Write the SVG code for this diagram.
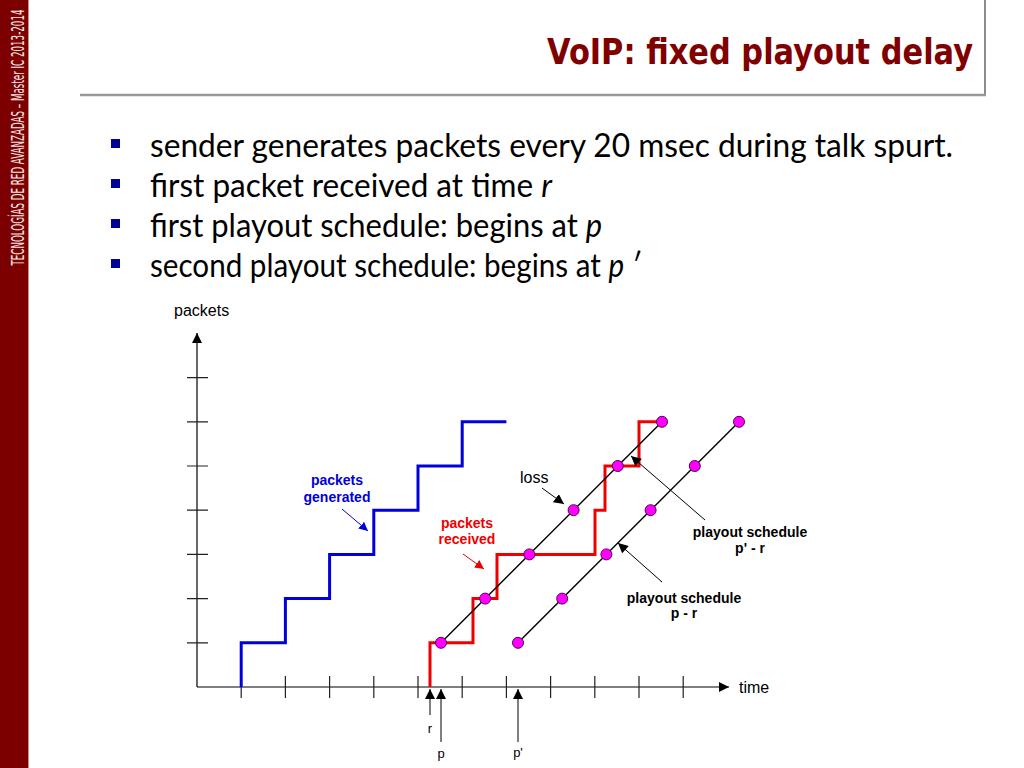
<svg xmlns="http://www.w3.org/2000/svg" width="1024" height="768" viewBox="0 0 1024 768">
<defs>
<style>
.side{font-family:"DejaVu Sans Condensed","Liberation Sans Narrow","DejaVu Sans",sans-serif;font-size:18px;fill:#f4e8e8}
.title{font-family:"DejaVu Sans","Liberation Sans",sans-serif;font-weight:bold;font-size:35px;fill:#800000}
.bul{font-family:Lato,"Open Sans",sans-serif;font-size:32px;fill:#000}
.it{font-style:italic}
.ax{stroke:#000;stroke-width:1.2;fill:none}
.tick{stroke:#222;stroke-width:1.2}
.lbl{font-family:"Liberation Sans",Arial,sans-serif;font-size:16px;fill:#000}
.sm{font-family:"Liberation Sans",Arial,sans-serif;font-size:13px;fill:#000;text-anchor:middle}
.bold{font-family:"Liberation Sans",Arial,sans-serif;font-weight:bold;font-size:14px;text-anchor:middle}
.dot{fill:#ff00ff;stroke:#550055;stroke-width:1}
.diag{stroke:#000;stroke-width:1.4;fill:none}
.thin{stroke:#000;stroke-width:1;fill:none}
</style>
<marker id="ah" viewBox="0 0 10 10" refX="10" refY="5" markerWidth="10" markerHeight="10" markerUnits="userSpaceOnUse" orient="auto"><path d="M0,0 L10,5 L0,10 z" fill="#000"/></marker>
<marker id="ahb" viewBox="0 0 10 10" refX="10" refY="5" markerWidth="9" markerHeight="9" markerUnits="userSpaceOnUse" orient="auto"><path d="M0,0 L10,5 L0,10 z" fill="#0000dd"/></marker>
<marker id="ahr" viewBox="0 0 10 10" refX="10" refY="5" markerWidth="9" markerHeight="9" markerUnits="userSpaceOnUse" orient="auto"><path d="M0,0 L10,5 L0,10 z" fill="#ee0000"/></marker>
<marker id="ahl" viewBox="0 0 10 10" refX="10" refY="5" markerWidth="12" markerHeight="10" markerUnits="userSpaceOnUse" orient="auto"><path d="M0,0 L10,5 L0,10 z" fill="#000"/></marker>
</defs>
<rect width="1024" height="768" fill="#fff"/>
<g id="sidebar">
<rect x="0" y="0" width="28" height="768" fill="#7d0000"/>
<line x1="28.5" y1="0" x2="28.5" y2="768" stroke="#c98c8c" stroke-width="1"/>
<text class="side" transform="translate(24,137.5) rotate(-90)" text-anchor="middle" textLength="256" lengthAdjust="spacingAndGlyphs">TECNOLOGÍAS DE RED AVANZADAS – Master IC 2013-2014</text>
</g>
<g id="header">
<line x1="985" y1="0" x2="985" y2="95" stroke="#8c8c8c" stroke-width="2"/>
<line x1="80" y1="95" x2="986" y2="95" stroke="#999" stroke-width="2.5"/>
<text class="title" x="547" y="64" textLength="426" lengthAdjust="spacingAndGlyphs">VoIP: fixed playout delay</text>
</g>
<g id="bullets">
<rect x="111" y="139" width="9" height="9" fill="#000099"/>
<rect x="111" y="179" width="9" height="9" fill="#000099"/>
<rect x="111" y="219" width="9" height="9" fill="#000099"/>
<rect x="111" y="259" width="9" height="9" fill="#000099"/>
<text class="bul" x="150" y="157" textLength="803" lengthAdjust="spacingAndGlyphs">sender generates packets every 20 msec during talk spurt.</text>
<text class="bul" x="150" y="197" textLength="402" lengthAdjust="spacingAndGlyphs">first packet received at time <tspan class="it">r</tspan></text>
<text class="bul" x="150" y="237" textLength="452" lengthAdjust="spacingAndGlyphs">first playout schedule: begins at <tspan class="it">p</tspan></text>
<text class="bul" x="150" y="277" textLength="490" lengthAdjust="spacingAndGlyphs">second playout schedule: begins at <tspan class="it">p ′</tspan></text>
</g>
<g id="axes">
<line class="ax" x1="197" y1="687" x2="197" y2="333" marker-end="url(#ah)"/>
<line class="ax" x1="197" y1="687" x2="729" y2="687" marker-end="url(#ah)"/>
<path class="tick" d="M187,642.8H208M187,598.6H208M187,554.4H208M187,510.2H208M187,466H208M187,421.8H208M187,377.6H208"/>
<path class="tick" d="M241.2,676V698M285.4,676V698M329.6,676V698M373.8,676V698M418,676V698M462.2,676V698M506.4,676V698M550.6,676V698M594.8,676V698M639,676V698M683.2,676V698"/>
<text class="lbl" x="174" y="316">packets</text>
<text class="lbl" x="739" y="693">time</text>
</g>
<g id="generated">
<path d="M241.2,687V642.8H285.4V598.6H329.6V554.4H373.8V510.2H418V466H462.2V421.8H506.4" fill="none" stroke="#0000dd" stroke-width="3"/>
<text class="bold" x="337" y="485" fill="#0000dd">packets</text>
<text class="bold" x="337" y="502" fill="#0000dd">generated</text>
</g>
<g id="received">
<path d="M430,687V642.8H473V598.6H497V554.4H595V510.2H605V466H639V421.8H662" fill="none" stroke="#ee0000" stroke-width="3"/>
<text class="bold" x="467" y="528" fill="#ee0000">packets</text>
<text class="bold" x="467" y="544" fill="#ee0000">received</text>
</g>
<g id="schedule-p">
<line class="diag" x1="441" y1="642.8" x2="662" y2="421.8"/>
<circle class="dot" cx="441" cy="642.8" r="5.5"/>
<circle class="dot" cx="485.2" cy="598.6" r="5.5"/>
<circle class="dot" cx="529.4" cy="554.4" r="5.5"/>
<circle class="dot" cx="573.6" cy="510.2" r="5.5"/>
<circle class="dot" cx="617.8" cy="466" r="5.5"/>
<circle class="dot" cx="662" cy="421.8" r="5.5"/>
</g>
<g id="schedule-pprime">
<line class="diag" x1="518" y1="642.8" x2="739" y2="421.8"/>
<circle class="dot" cx="518" cy="642.8" r="5.5"/>
<circle class="dot" cx="562.2" cy="598.6" r="5.5"/>
<circle class="dot" cx="606.4" cy="554.4" r="5.5"/>
<circle class="dot" cx="650.6" cy="510.2" r="5.5"/>
<circle class="dot" cx="694.8" cy="466" r="5.5"/>
<circle class="dot" cx="739" cy="421.8" r="5.5"/>
</g>
<g id="labels">
<text class="lbl" x="520" y="483">loss</text>
<text class="bold" x="750" y="537" fill="#000">playout schedule</text>
<text class="bold" x="750" y="553" fill="#000">p' - r</text>
<text class="bold" x="684" y="603" fill="#000">playout schedule</text>
<text class="bold" x="684" y="618" fill="#000">p - r</text>
<text class="sm" x="430" y="733">r</text>
<text class="sm" x="441" y="758">p</text>
<text class="sm" x="518" y="757">p'</text>
</g>
<g id="connectors">
<line stroke="#0000dd" stroke-width="1" x1="342" y1="509" x2="368" y2="531" marker-end="url(#ahb)"/>
<line stroke="#ee0000" stroke-width="1" x1="463" y1="554" x2="484" y2="569" marker-end="url(#ahr)"/>
<line class="thin" x1="542" y1="488" x2="564" y2="504" marker-end="url(#ah)"/>
<line class="thin" x1="705" y1="520" x2="631" y2="456" marker-end="url(#ahl)"/>
<line class="thin" x1="662" y1="582" x2="618" y2="543" marker-end="url(#ahl)"/>
<line class="thin" x1="430" y1="715" x2="430" y2="689" marker-end="url(#ah)"/>
<line class="thin" x1="441" y1="742" x2="441" y2="689" marker-end="url(#ah)"/>
<line class="thin" x1="518" y1="742" x2="518" y2="689" marker-end="url(#ah)"/>
</g>
</svg>
